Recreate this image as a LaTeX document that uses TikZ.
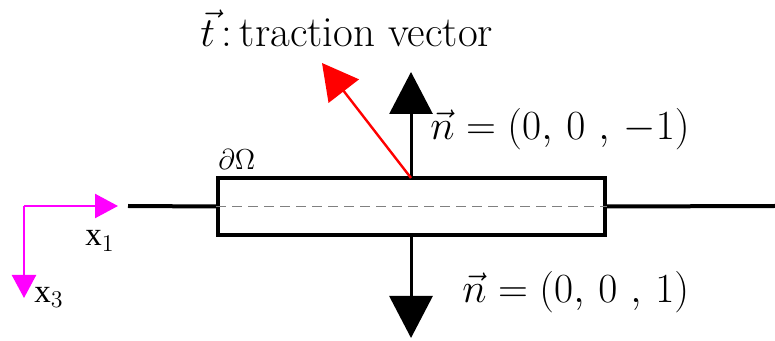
\documentclass[tikz,border=0pt]{standalone}
\usepackage{fontspec}
\newfontfamily\timesf{Liberation Serif}
\usetikzlibrary{arrows.meta}
\definecolor{puremag}{RGB}{255,0,255}
\tikzset{
  thickline/.style={line width=2pt, black},
  stem/.style={line width=1.5pt, black, -{Triangle[length=21pt,width=21.5pt]}},
  tvec/.style={line width=1.2pt, red, -{Triangle[length=17.8pt,width=19pt]}},
  axis/.style={line width=1.2pt, puremag, -{Triangle[length=11.5pt,width=12pt]}},
  lbl/.style={font=\fontsize{21.5}{25}\selectfont, inner sep=0pt},
  axlbl/.style={font=\timesf\fontsize{16.5}{19}\selectfont, inner sep=0pt}
}
\begin{document}
\begin{tikzpicture}[x=0.5pt,y=-0.5pt]
\useasboundingbox (0,0) rectangle (775,341);
% box
\node[draw, line width=2pt, minimum width=193.5pt, minimum height=28.5pt, inner sep=0pt] (box) at (411.5,206.5) {};
\coordinate (lend) at (128,206);
\coordinate (rend) at (775,206);
\draw[thickline] (lend) -- (box.west);
\draw[thickline] (box.east) -- (rend);
\draw[gray, line width=0.7pt, dash pattern=on 5pt off 3pt] (box.west) -- (box.east);
% arrows
\coordinate (top) at (411,178);
\coordinate (bot) at (411,235);
\coordinate (uptip) at (411,72);
\coordinate (dntip) at (411,338);
\coordinate (ttip) at (322,63);
\draw[stem] (top) -- (uptip);
\draw[stem] (bot) -- (dntip);
\draw[tvec] (top) -- (ttip);
% labels
\node[lbl, anchor=base west] (tlab) at (200,47) {$\vec{t}\,$:\,traction vector};
\node[lbl, anchor=base west] (nup) at (430,140) {$\vec{n} = (0,\,0\ ,\,{-1})$};
\node[lbl, anchor=base west] (ndn) at (462,302) {$\vec{n} = (0,\,0\ ,\,1)$};
\node[font=\fontsize{15}{17}\selectfont, inner sep=0pt, anchor=base west] (dO) at (218,170) {$\partial\Omega$};
% axes
\coordinate (org) at (24,206);
\coordinate (x1tip) at (118,206);
\coordinate (x3tip) at (24,298);
\draw[axis] (org) -- (x1tip);
\draw[axis] (org) -- (x3tip);
\node[axlbl, anchor=base west] (x1) at (85,246) {x$_1$};
\node[axlbl, anchor=base west] (x3) at (34,302) {x$_3$};
\end{tikzpicture}
\end{document}
